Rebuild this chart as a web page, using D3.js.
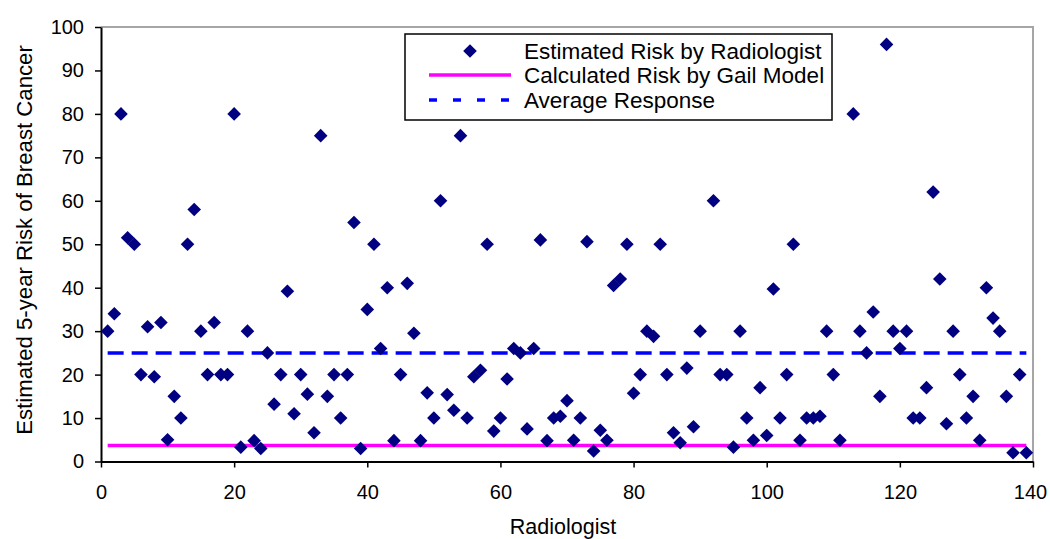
<!DOCTYPE html>
<html>
<head>
<meta charset="utf-8">
<script src="https://cdn.jsdelivr.net/npm/d3@7"></script>
<style>
  html, body { margin: 0; padding: 0; background: #fff; }
  svg { display: block; font-family: "Liberation Sans", Arial, Helvetica, sans-serif; }
</style>
</head>
<body>
<svg id="chart" width="1050" height="539"></svg>
<script>
// ---- data ----
const radiologist = [1,2,3,4,5,6,7,8,9,10,11,12,13,14,15,16,17,18,19,20,
  21,22,23,24,25,26,27,28,29,30,31,32,33,34,35,36,37,38,39,40,
  41,42,43,44,45,46,47,48,49,50,51,52,53,54,55,56,57,58,59,60,
  61,62,63,64,65,66,67,68,69,70,71,72,73,74,75,76,77,78,79,80,
  81,82,83,84,85,86,87,88,89,90,92,93,94,95,96,97,98,99,100,
  101,102,103,104,105,106,107,108,109,110,111,113,114,115,116,117,118,119,120,
  121,122,123,124,125,126,127,128,129,130,131,132,133,134,135,136,137,138,139];
const estimatedRisk = [30,34,80,51.5,50,20,31,19.5,32,5,15,10,50,58,30,20,32,20,20,80,
  3.3,30,4.8,3,25,13.2,20,39.2,11,20,15.5,6.6,75,15,20,10,20,55,3,35,
  50,26,40,4.8,20,41,29.5,4.8,15.8,10,60,15.4,11.8,75,10,19.5,21,50,7,10,
  19,26,25,7.5,26,51,4.8,10,10.4,14,4.9,10,50.6,2.4,7.2,4.9,40.5,42,50,15.7,
  20,30,28.8,50,20,6.6,4.3,21.5,8,30,60,20,20,3.3,30,10,4.9,17,6,
  39.7,10,20,50,4.9,10,10,10.4,30,20,4.9,80,30,25,34.4,15,96,30,26,
  30,10,10,17,62,42,8.7,30,20,10,15,4.9,40,33,30,15,2,20,2];
const gailRisk = 3.7;          // Calculated Risk by Gail Model
const averageResponse = 25;    // Average Response
const lineRange = [1, 139];
const xTicks = [0,20,40,60,80,100,120,140];
const yTicks = [0,10,20,30,40,50,60,70,80,90,100];
const legendLabels = ["Estimated Risk by Radiologist", "Calculated Risk by Gail Model", "Average Response"];

// ---- layout ----
const svg = d3.select("#chart");
const x = d3.scaleLinear().domain([0, 140]).range([101, 1033]);
const y = d3.scaleLinear().domain([0, 100]).range([461.5, 27]);

const navy = "#000080", magenta = "#FF00FF", blue = "#0000FF";

// plot border (gray)
svg.append("path")
  .attr("d", `M${x(0)},${y(100)}H${x(140)}V${y(0)}`)
  .attr("fill", "none").attr("stroke", "#a6a6a6").attr("stroke-width", 2);

// axes
const yAxis = svg.append("g").attr("transform", `translate(${x(0)},0)`)
  .call(d3.axisLeft(y).tickValues(yTicks).tickSize(6).tickSizeOuter(0).tickPadding(11));
const xAxis = svg.append("g").attr("transform", `translate(0,${y(0)})`)
  .call(d3.axisBottom(x).tickValues(xTicks).tickSize(6).tickSizeOuter(0).tickPadding(17));
[yAxis, xAxis].forEach(g => {
  g.select(".domain").attr("stroke", "#000").attr("stroke-width", 2);
  g.selectAll(".tick line").attr("stroke", "#000").attr("stroke-width", 1.5);
  g.selectAll(".tick text").attr("fill", "#000")
    .style("font-size", "20px").style("font-family", "'Liberation Sans', Arial, sans-serif");
});
// keep the last x label inside the window
xAxis.selectAll(".tick text").filter(d => d === 140).attr("dx", "-3");

// lines
const lineGen = d3.line().x(d => x(d[0])).y(d => y(d[1]));
svg.append("path")
  .datum(lineRange.map(r => [r, gailRisk]))
  .attr("d", lineGen).attr("stroke", magenta).attr("stroke-width", 3.5).attr("fill", "none");
svg.append("path")
  .datum(lineRange.map(r => [r, averageResponse]))
  .attr("d", lineGen).attr("stroke", blue).attr("stroke-width", 3.5)
  .attr("stroke-dasharray", "16,8").attr("fill", "none");

// diamonds
const r = 6.8;
const diamond = `M0,${-r}L${r},0L0,${r}L${-r},0Z`;
svg.append("g").selectAll("path")
  .data(radiologist.map((d, i) => [d, estimatedRisk[i]]))
  .join("path")
  .attr("d", diamond)
  .attr("transform", d => `translate(${x(d[0])},${y(d[1])})`)
  .attr("fill", navy);

// legend
const lg = svg.append("g");
lg.append("rect").attr("x", 405).attr("y", 34).attr("width", 427).attr("height", 86)
  .attr("fill", "#fff").attr("stroke", "#000").attr("stroke-width", 1.5);
const rowsY = [51, 75, 100];
lg.append("path").attr("d", diamond).attr("transform", `translate(470,${rowsY[0]})`).attr("fill", navy);
lg.append("line").attr("x1", 429).attr("x2", 511).attr("y1", rowsY[1]).attr("y2", rowsY[1])
  .attr("stroke", magenta).attr("stroke-width", 3.5);
lg.append("line").attr("x1", 429).attr("x2", 511).attr("y1", rowsY[2]).attr("y2", rowsY[2])
  .attr("stroke", blue).attr("stroke-width", 3.5).attr("stroke-dasharray", "8,16");
lg.selectAll("text.lab").data(legendLabels).join("text")
  .attr("class", "lab")
  .attr("x", 524).attr("y", (d, i) => rowsY[i] + 7.5)
  .style("font-size", "22.5px").attr("fill", "#000")
  .text(d => d);

// axis titles
svg.append("text").attr("x", 563).attr("y", 534).attr("text-anchor", "middle")
  .style("font-size", "21.5px").text("Radiologist");
svg.append("text").attr("transform", "translate(32,240) rotate(-90)").attr("text-anchor", "middle")
  .style("font-size", "22.2px").text("Estimated 5-year Risk of Breast Cancer");
</script>
</body>
</html>
